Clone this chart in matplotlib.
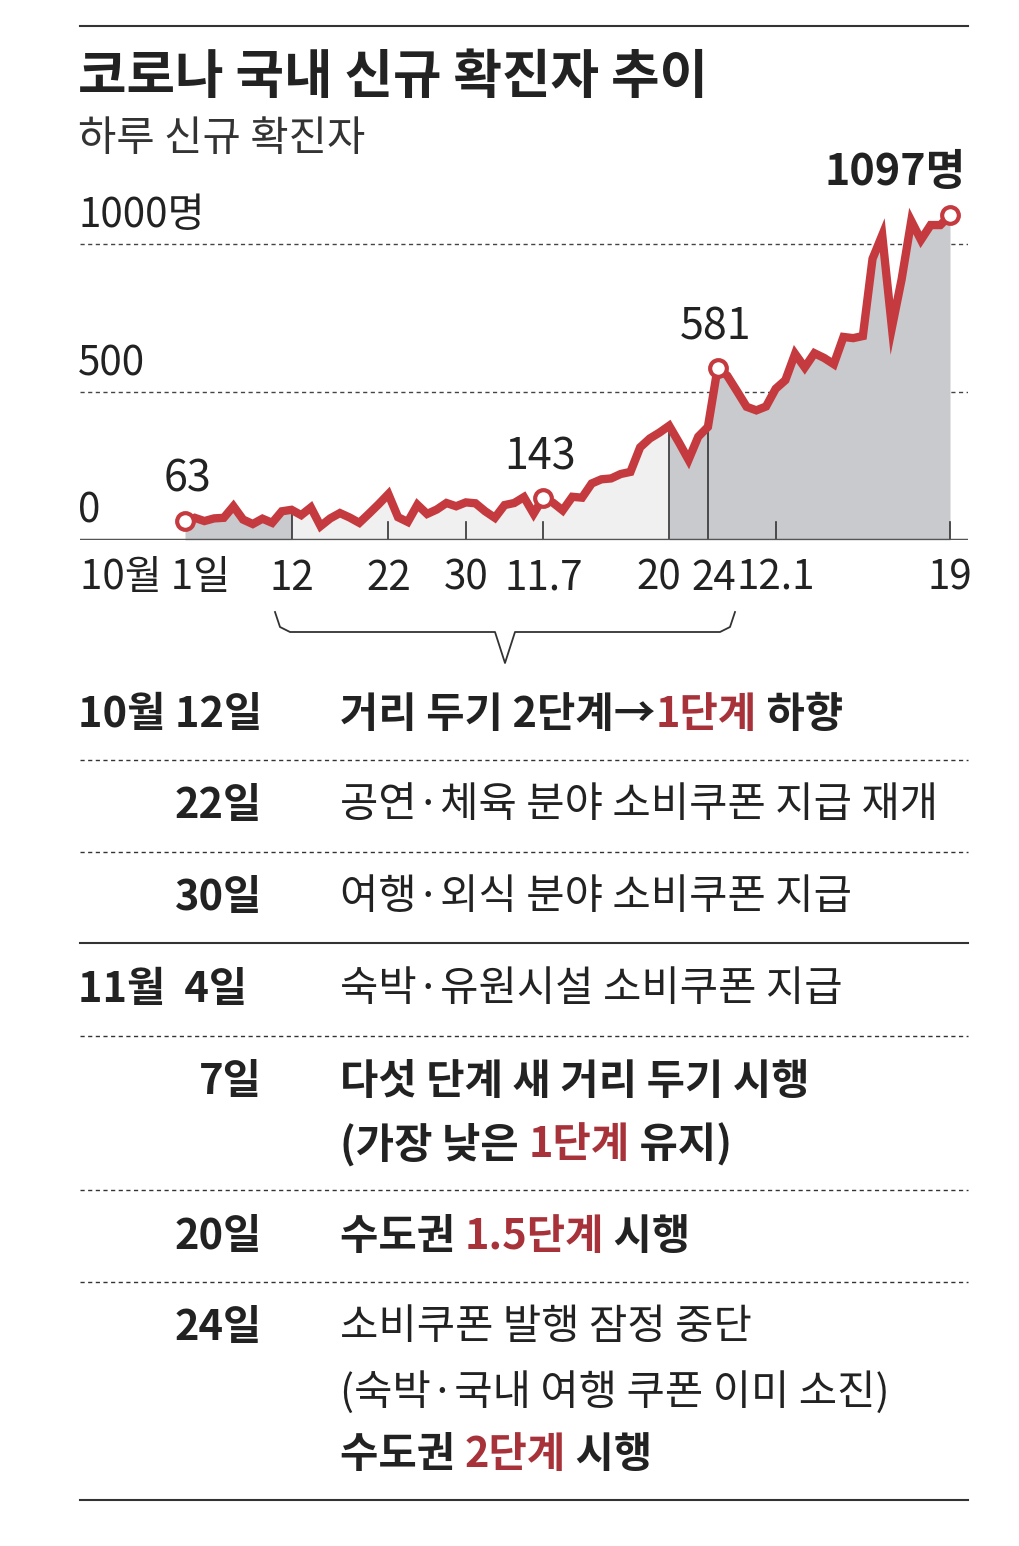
import matplotlib
matplotlib.use("Agg")
import matplotlib.pyplot as plt
import numpy as np
from matplotlib.lines import Line2D

FONT = "Noto Sans CJK KR"
plt.rcParams["font.family"] = FONT

# daily new cases, Oct 1 .. Dec 19 (chart positions)
cases = [63, 75, 64, 73, 75, 114, 69, 54, 72, 58, 97, 102, 84, 110, 47, 73, 91, 76, 58, 89,
         121, 155, 77, 61, 119, 88, 103, 125, 114, 127, 124, 97, 75, 118, 125, 145, 89, 143,
         126, 100, 146, 143, 191, 205, 208, 223, 230, 313, 343, 363, 386, 330, 271, 349, 382,
         581, 555, 503, 450, 438, 451, 511, 540, 629, 583, 631, 615, 594, 686, 682, 689, 950,
         1030, 718, 880, 1078, 1014, 1064, 1064, 1097]
tick_pos = [0, 11, 21, 29, 37, 50, 54, 61, 79]
tick_labels = ["10월 1일", "12", "22", "30", "11.7", "20", "24", "12.1", "19"]
y_ticks = [0, 500, 1000]
y_labels = ["0", "500", "1000명"]
marks = {0: "63", 37: "143", 55: "581", 79: "1097명"}

W, H = 1019, 1546
fig = plt.figure(figsize=(W/100, H/100), dpi=100)
RED = "#c43a3e"
DRED = "#a8323a"

def fx(px): return px / W
def fy(py): return 1 - py / H

ax = fig.add_axes([fx(80), fy(540), fx(968-80), (540-200)/H])
ppd = (950-185)/79
ax.set_xlim(-(185-80)/ppd, (968-185)/ppd)
ax.set_ylim(0, 340/0.296)
ax.axis("off")
x = np.arange(len(cases))
y = np.array(cases, float)
ax.fill_between(x, y, color="#c9cacd", lw=0, zorder=1)
m = (x >= 11) & (x <= 50)
ax.fill_between(x[m], y[m], color="#f0f0f0", lw=0, zorder=1)
for b in [11, 50, 54]:
    ax.plot([b, b], [0, cases[b]], color="#333", lw=1.2, zorder=2)
for t in [21, 29, 37, 61, 79]:
    ax.plot([t, t], [0, 60], color="#333", lw=1.2, zorder=2)
for v in [500, 1000]:
    ax.axhline(v, color="#444", lw=1, ls=(0, (3, 2.5)), zorder=0)
ax.axhline(0, color="#555", lw=2.5, zorder=3)
ax.plot(x, y, color=RED, lw=6, zorder=4, solid_joinstyle="miter")
for k in marks:
    ax.plot(k, cases[k], "o", ms=12, mfc="white", mec=RED, mew=3, zorder=5)

for v, l in zip(y_ticks, y_labels):
    fig.text(fx(78), fy(540 - v*0.296 - 8), l, fontsize=29, ha="left", va="bottom", color="#222")
offs = {50: -10, 54: 6}
for p, l in zip(tick_pos, tick_labels):
    px = 185 + p*ppd + offs.get(p, 0)
    ha = "center"
    if p == 0:
        px = 80; ha = "left"
    fig.text(fx(px), fy(578), l, fontsize=29, ha=ha, va="center", color="#222")
fig.text(fx(187), fy(480), "63", fontsize=31, ha="center", va="center", color="#222")
fig.text(fx(540), fy(458), "143", fontsize=31, ha="center", va="center", color="#222")
fig.text(fx(716), fy(328), "581", fontsize=31, ha="center", va="center", color="#222")
fig.text(fx(966), fy(172), "1097명", fontsize=31, ha="right", va="center", color="#222", weight="bold")

fig.add_artist(Line2D([fx(80), fx(968)], [fy(26), fy(26)], color="#333", lw=1.5))
fig.text(fx(78), fy(78), "코로나 국내 신규 확진자 추이", fontsize=38, weight="bold", va="center", color="#222")
fig.text(fx(78), fy(140), "하루 신규 확진자", fontsize=30, va="center", color="#333")

bx = [fx(v) for v in [275, 280, 290, 495, 505, 515, 720, 730, 735]]
by = [fy(v) for v in [612, 627, 632, 632, 663, 632, 632, 627, 612]]
fig.add_artist(Line2D(bx, by, color="#333", lw=1.3))

renderer = fig.canvas.get_renderer()
def seq(px, py, parts, size=28, weight="normal"):
    xcur = px
    for s, c in parts:
        t = fig.text(fx(xcur), fy(py), s, fontsize=size, va="center", ha="left", color=c, weight=weight)
        bb = t.get_window_extent(renderer)
        xcur += bb.width
K = "#222"
rows = [
    (715, "10월 12일", "left", [("거리 두기 2단계→", K), ("1단계", DRED), (" 하향", K)], "bold"),
    (806, "22일", "right", [("공연·체육 분야 소비쿠폰 지급 재개", K)], "normal"),
    (898, "30일", "right", [("여행·외식 분야 소비쿠폰 지급", K)], "normal"),
    (990, "11월  4일", "left", [("숙박·유원시설 소비쿠폰 지급", K)], "normal"),
    (1082, "7일", "right", [("다섯 단계 새 거리 두기 시행", K)], "bold"),
    (1145, None, None, [("(가장 낮은 ", K), ("1단계", DRED), (" 유지)", K)], "bold"),
    (1237, "20일", "right", [("수도권 ", K), ("1.5단계", DRED), (" 시행", K)], "bold"),
    (1328, "24일", "right", [("소비쿠폰 발행 잠정 중단", K)], "normal"),
    (1392, None, None, [("(숙박·국내 여행 쿠폰 이미 소진)", K)], "normal"),
    (1455, None, None, [("수도권 ", K), ("2단계", DRED), (" 시행", K)], "bold"),
]
for py, d, al, parts, w in rows:
    if d:
        fig.text(fx(78 if al == "left" else 262), fy(py), d, fontsize=30, weight="bold",
                 ha=al, va="center", color=K)
    seq(340, py, parts, size=30, weight=w)
for py, solid in [(760, False), (852, False), (943, True), (1036, False), (1190, False), (1282, False), (1500, True)]:
    fig.add_artist(Line2D([fx(80), fx(968)], [fy(py), fy(py)], color="#333",
                          lw=1.5 if solid else 1, ls="-" if solid else (0, (3, 2.5))))

fig.savefig("out.png", dpi=100)
